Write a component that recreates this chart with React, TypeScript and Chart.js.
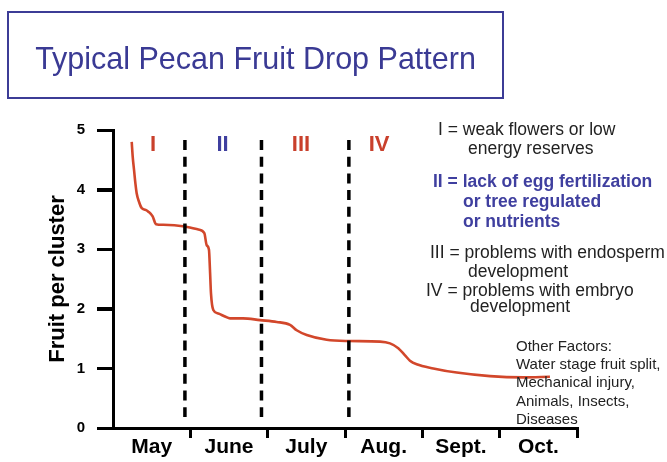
import React, { useEffect, useRef } from 'react';
import { Chart, registerables } from 'chart.js';

Chart.register(...registerables);

// ---- data ----
const monthLabels = ['May', 'June', 'July', 'Aug.', 'Sept.', 'Oct.'];
// time in months since 1 May
const dropTime = [
  0.242, 0.255, 0.272, 0.29, 0.306, 0.335, 0.371, 0.42, 0.457, 0.513, 0.556, 0.651,
  0.931, 1.103, 1.181, 1.211, 1.241, 1.254, 1.267, 1.297, 1.362, 1.448, 1.513,
  1.681, 1.901, 2.117, 2.289, 2.375, 2.505, 2.763, 3.043, 3.453, 3.582, 3.689,
  3.776, 3.84, 3.927, 4.142, 4.445, 4.875, 5.306, 5.65,
];
const fruitPerCluster = [
  4.8, 4.55, 4.33, 4.1, 3.94, 3.8, 3.69, 3.66, 3.63, 3.55, 3.42, 3.41,
  3.38, 3.33, 3.27, 3.07, 2.99, 2.65, 2.26, 1.98, 1.92, 1.87, 1.84,
  1.84, 1.81, 1.78, 1.73, 1.64, 1.56, 1.48, 1.46, 1.45, 1.42, 1.34,
  1.22, 1.13, 1.07, 1.0, 0.93, 0.87, 0.85, 0.86,
];
const yTickValues = [0, 1, 2, 3, 4, 5];
// stage transitions (months since 1 May)
const stageBoundaries = [0.93, 1.92, 3.05];
const stageLabels = ['I', 'II', 'III', 'IV'];
const stageColors = ['#c9402c', '#3f3f9f', '#c9402c', '#c9402c'];

const titleText = 'Typical Pecan Fruit Drop Pattern';
const yTitle = 'Fruit per cluster';
const stageNotes = [
  { text: 'I = weak flowers or low', bold: false },
  { text: 'energy reserves', bold: false },
  { text: 'II = lack of egg fertilization', bold: true },
  { text: 'or tree regulated', bold: true },
  { text: 'or nutrients', bold: true },
  { text: 'III = problems with endosperm', bold: false },
  { text: 'development', bold: false },
  { text: 'IV = problems with embryo', bold: false },
  { text: 'development', bold: false },
];
const otherFactors = [
  'Other Factors:',
  'Water stage fruit split,',
  'Mechanical injury,',
  'Animals, Insects,',
  'Diseases',
];

// ---- layout (pixels) ----
const noteLayout = [
  [438, 136], [468, 155], [433, 188], [463, 208], [463, 228],
  [430, 259], [468, 278], [426, 297], [470, 313],
];
const otherLayout = [[516, 350.7], [516, 368.6], [516, 387], [516, 405.5], [516, 424]];
const stageLabelX = [0.517, 1.416, 2.431, 3.44];

const FONT = '"Liberation Sans", Arial, Helvetica, sans-serif';

function baselineTop(b: number, fs: number) {
  return b - 0.8465 * fs;
}

export default function App() {
  const ref = useRef<HTMLCanvasElement | null>(null);

  useEffect(() => {
    const canvas = ref.current;
    if (!canvas) return;

    const overlay = {
      id: 'overlay',
      afterDatasetsDraw(chart: any) {
        const { ctx, chartArea, scales } = chart;
        const xs = scales.x;
        const ys = scales.y;
        ctx.save();
        // y-axis tick marks
        ctx.strokeStyle = '#000';
        ctx.lineWidth = 3;
        yTickValues.forEach((v) => {
          const py = Math.round(ys.getPixelForValue(v)) + 0.5;
          ctx.beginPath();
          ctx.moveTo(chartArea.left - 16, py);
          ctx.lineTo(chartArea.left, py);
          ctx.stroke();
        });
        // stage boundaries
        ctx.lineWidth = 3.5;
        ctx.setLineDash([10, 6.7]);
        stageBoundaries.forEach((v) => {
          const px = xs.getPixelForValue(v);
          ctx.beginPath();
          ctx.moveTo(px, chartArea.top + 10);
          ctx.lineTo(px, chartArea.bottom - 11);
          ctx.stroke();
        });
        ctx.setLineDash([]);
        ctx.font = `bold 22px ${FONT}`;
        ctx.textAlign = 'center';
        ctx.textBaseline = 'alphabetic';
        stageLabels.forEach((s, i) => {
          ctx.fillStyle = stageColors[i];
          ctx.fillText(s, xs.getPixelForValue(stageLabelX[i]), chartArea.top + 21);
        });
        ctx.restore();
      },
    };

    const chart = new Chart(canvas, {
      type: 'line',
      data: {
        datasets: [
          {
            data: dropTime.map((t, i) => ({ x: t, y: fruitPerCluster[i] })),
            borderColor: '#d2472b',
            borderWidth: 2.6,
            pointRadius: 0,
            cubicInterpolationMode: 'monotone',
            fill: false,
          },
        ],
      },
      options: {
        animation: false,
        responsive: false,
        devicePixelRatio: 1,
        layout: { padding: { left: 0, right: 90, top: 130, bottom: 0 } },
        plugins: { legend: { display: false }, tooltip: { enabled: false }, title: { display: false } },
        scales: {
          x: {
            type: 'linear',
            min: 0,
            max: 6,
            afterFit: (s: any) => { s.height = 34; },
            afterBuildTicks: (s: any) => {
              const t: any[] = [];
              for (let i = 0; i <= monthLabels.length * 2; i++) t.push({ value: i / 2 });
              s.ticks = t;
            },
            border: { display: true, color: '#000', width: 3 },
            grid: {
              drawOnChartArea: false,
              drawTicks: true,
              tickLength: 10,
              lineWidth: 3,
              color: (c: any) => {
                const v = c.tick ? c.tick.value : 0;
                return Number.isInteger(v) && v > 0 ? '#000' : 'rgba(0,0,0,0)';
              },
            },
            ticks: {
              autoSkip: false,
              maxRotation: 0,
              padding: -1,
              color: '#000',
              font: { family: FONT, size: 21, weight: 'bold', lineHeight: 1 },
              callback: (v: any) => {
                const n = Number(v);
                return Number.isInteger(n) ? '' : monthLabels[Math.floor(n)];
              },
            },
          },
          y: {
            type: 'linear',
            min: 0,
            max: 5,
            afterFit: (s: any) => { s.width = 113; },
            afterBuildTicks: (s: any) => { s.ticks = yTickValues.map((v) => ({ value: v })); },
            border: { display: true, color: '#000', width: 3 },
            grid: {
              drawOnChartArea: false,
              drawTicks: true,
              tickLength: 16,
              lineWidth: 3,
              color: '#000',
            },
            ticks: {
              padding: 12,
              color: '#000',
              font: { family: FONT, size: 15, weight: 'bold' },
            },
            title: {
              display: true,
              text: yTitle,
              color: '#000',
              padding: { top: 45, bottom: 0 },
              font: { family: FONT, size: 22, weight: 'bold', lineHeight: 1.2 },
            },
          },
        },
      },
      plugins: [overlay],
    } as any);

    return () => chart.destroy();
  }, []);

  const textStyle = (left: number, b: number, fs: number, bold: boolean, color: string): React.CSSProperties => ({
    position: 'absolute',
    left,
    top: baselineTop(b, fs),
    fontFamily: FONT,
    fontSize: fs,
    lineHeight: `${fs}px`,
    fontWeight: bold ? 'bold' : 'normal',
    color,
    whiteSpace: 'nowrap',
  });

  return (
    <div style={{ position: 'fixed', left: 0, top: 0, width: 667, height: 462, background: '#fff', overflow: 'hidden' }}>
      <canvas ref={ref} width={667} height={462} style={{ position: 'absolute', left: 0, top: 0, width: 667, height: 462 }} />
      <div
        style={{
          position: 'absolute',
          left: 7,
          top: 11,
          width: 497,
          height: 88,
          boxSizing: 'border-box',
          border: '2.5px solid #3c3c96',
        }}
      />
      <div style={{ ...textStyle(0, 69, 30.5, false, '#3a3a94'), width: 511, textAlign: 'center' }}>{titleText}</div>
      {stageNotes.map((n, i) => (
        <div key={'n' + i} style={textStyle(noteLayout[i][0], noteLayout[i][1], 17.5, n.bold, n.bold ? '#3f3f9f' : '#222')}>
          {n.text}
        </div>
      ))}
      {otherFactors.map((t, i) => (
        <div key={'o' + i} style={textStyle(otherLayout[i][0], otherLayout[i][1], 15, false, '#222')}>
          {t}
        </div>
      ))}
    </div>
  );
}
